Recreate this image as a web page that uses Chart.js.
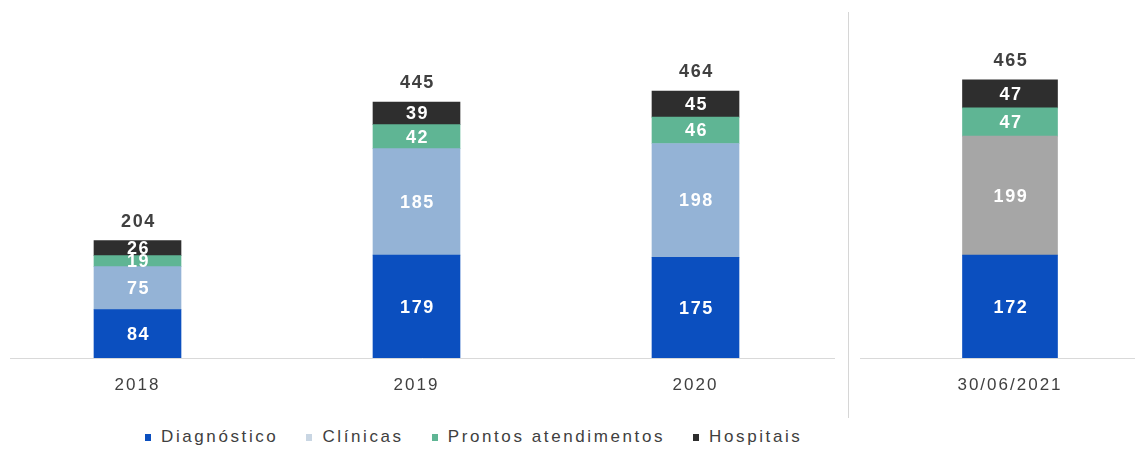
<!DOCTYPE html>
<html>
<head>
<meta charset="utf-8">
<script src="https://cdn.jsdelivr.net/npm/chart.js@4/dist/chart.umd.min.js"></script>
<style>
  html, body { margin: 0; padding: 0; background: #ffffff; }
  #stage { position: relative; width: 1135px; height: 450px; overflow: hidden; background: #ffffff; }
  #leftBox { position: absolute; left: -2px; top: 0; width: 837px; height: 400px; }
  #rightBox { position: absolute; left: 858px; top: 0; width: 277px; height: 400px; }
  #divider { position: absolute; left: 848px; top: 12px; width: 1px; height: 406px; background: #d6d6d6; }
  #legend { position: absolute; left: 145px; top: 427px; display: flex; align-items: center;
            font-family: "Liberation Sans", Arial, sans-serif; font-size: 17px; letter-spacing: 2.6px; color: #404040; }
  .item { display: flex; align-items: center; margin-right: 28px; white-space: nowrap; }
  .sw { width: 6px; height: 7px; margin-right: 10px; }
</style>
</head>
<body>
<div id="stage">
  <div id="leftBox"><canvas id="leftChart"></canvas></div>
  <div id="divider"></div>
  <div id="rightBox"><canvas id="rightChart"></canvas></div>
  <div id="legend"></div>
</div>
<script>
// Categories and series values
const categories = ['2018', '2019', '2020', '30/06/2021'];
const diagnostico = [84, 179, 175, 172];
const clinicas = [75, 185, 198, 199];
const prontos = [19, 42, 46, 47];
const hospitais = [26, 39, 45, 47];
const seriesNames = ['Diagnóstico', 'Clínicas', 'Prontos atendimentos', 'Hospitais'];

// Colours
const cDiag = '#0b4fbf';
const cClin = '#94b3d6';
const cClinLatest = '#a6a6a6';
const cPronto = '#5fb594';
const cHosp = '#2e2e2e';
const textDark = '#404040';
const fontFamily = '"Liberation Sans", Arial, sans-serif';

function buildDatasets(from, to, clinColor) {
  return [
    { label: seriesNames[0], data: diagnostico.slice(from, to), backgroundColor: cDiag },
    { label: seriesNames[1], data: clinicas.slice(from, to), backgroundColor: clinColor },
    { label: seriesNames[2], data: prontos.slice(from, to), backgroundColor: cPronto },
    { label: seriesNames[3], data: hospitais.slice(from, to), backgroundColor: cHosp }
  ];
}

// Widened lettering for the axis labels
const spacingPlugin = {
  id: 'spacing',
  beforeDraw(chart) { chart.ctx.letterSpacing = '2px'; }
};

// Horizontal base line under the bars
const baseLinePlugin = {
  id: 'baseLine',
  afterDatasetsDraw(chart, args, opts) {
    const ctx = chart.ctx;
    const y = Math.round(chart.chartArea.bottom) + 0.5;
    ctx.save();
    ctx.strokeStyle = '#d9d9d9';
    ctx.lineWidth = 1;
    ctx.beginPath();
    ctx.moveTo(opts.from, y);
    ctx.lineTo(chart.width, y);
    ctx.stroke();
    ctx.restore();
  }
};

// Segment values inside the bars and totals above them
const valueLabelPlugin = {
  id: 'valueLabels',
  afterDatasetsDraw(chart) {
    const ctx = chart.ctx;
    ctx.save();
    ctx.font = 'bold 18px ' + fontFamily;
    ctx.letterSpacing = '1.6px';
    ctx.textAlign = 'center';
    ctx.textBaseline = 'middle';
    const n = chart.data.labels.length;
    for (let i = 0; i < n; i++) {
      let total = 0;
      let topY = null;
      let cx = 0;
      chart.data.datasets.forEach((ds, d) => {
        const el = chart.getDatasetMeta(d).data[i];
        const v = ds.data[i];
        total += v;
        ctx.fillStyle = '#ffffff';
        ctx.fillText(String(v), el.x + 1, (el.y + el.base) / 2 + 1);
        topY = el.y;
        cx = el.x;
      });
      ctx.fillStyle = textDark;
      ctx.fillText(String(total), cx + 1, topY - 19);
    }
    ctx.restore();
  }
};

function makeOptions(yMax, padLeft, padTop, lineFrom) {
  return {
    responsive: true,
    maintainAspectRatio: false,
    animation: false,
    layout: { padding: { left: padLeft, right: 0, top: padTop, bottom: 0 } },
    plugins: {
      legend: { display: false },
      tooltip: { enabled: false },
      baseLine: { from: lineFrom }
    },
    scales: {
      x: {
        stacked: true,
        grid: { display: false, drawTicks: false },
        border: { display: false },
        ticks: { color: textDark, font: { family: fontFamily, size: 17 }, padding: 17 },
        afterFit(scale) { scale.height = 42; }
      },
      y: { stacked: true, display: false, min: 0, max: yMax }
    }
  };
}

// Yearly bars
new Chart(document.getElementById('leftChart'), {
  type: 'bar',
  data: {
    labels: categories.slice(0, 3),
    datasets: buildDatasets(0, 3, cClin).map(d => Object.assign(d, { barThickness: 87 }))
  },
  options: makeOptions(600, 0, 13, 12),
  plugins: [spacingPlugin, baseLinePlugin, valueLabelPlugin]
});

// Mid-year position
new Chart(document.getElementById('rightChart'), {
  type: 'bar',
  data: {
    labels: categories.slice(3),
    datasets: buildDatasets(3, 4, cClinLatest).map(d => Object.assign(d, { barThickness: 95 }))
  },
  options: makeOptions(560, 27, 23, 2),
  plugins: [spacingPlugin, baseLinePlugin, valueLabelPlugin]
});

// Legend
const legendColors = [cDiag, '#c9d6e3', cPronto, cHosp];
const legend = document.getElementById('legend');
seriesNames.forEach((name, i) => {
  const item = document.createElement('div');
  item.className = 'item';
  const sw = document.createElement('span');
  sw.className = 'sw';
  sw.style.background = legendColors[i];
  const tx = document.createElement('span');
  tx.textContent = name;
  item.appendChild(sw);
  item.appendChild(tx);
  legend.appendChild(item);
});
</script>
</body>
</html>
